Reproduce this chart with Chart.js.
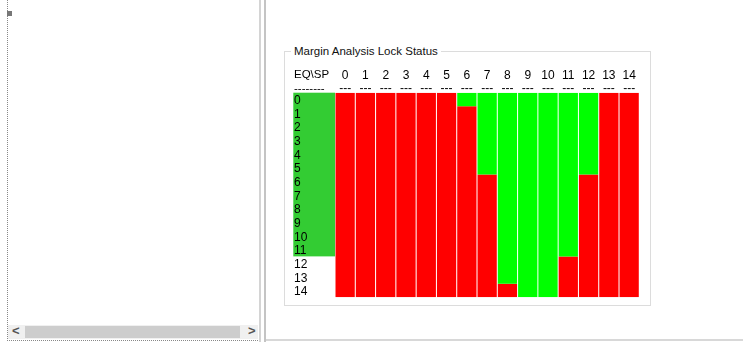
<!DOCTYPE html>
<html>
<head>
<meta charset="utf-8">
<script src="https://cdn.jsdelivr.net/npm/chart.js@4"></script>
<style>
  body { margin: 0; width: 743px; height: 342px; background: #fff; position: relative; overflow: hidden;
         font-family: "Liberation Sans", Arial, sans-serif; }
  .abs { position: absolute; }
  #vdots { left: 7px; top: 0; height: 341px; border-left: 1px dotted #888; }
  #hdots { left: 7px; top: 340px; width: 251px; border-top: 1px dotted #888; }
  #knob { left: 7px; top: 11px; width: 5px; height: 5px; background: #777; }
  #sbar { left: 8px; top: 325px; width: 250px; height: 14px; background: #f0f0f0; }
  #thumb { left: 25px; top: 326px; width: 215px; height: 12px; background: #cdcdcd; }
  .arrow { top: 323px; font-size: 13px; font-weight: bold; color: #555; }
  #split1 { left: 259px; top: 0; width: 2px; height: 342px; background: #d4d4d4; }
  #split2 { left: 264px; top: 0; width: 2px; height: 342px; background: #c4c4c4; }
  #rbot { left: 266px; top: 339px; width: 477px; height: 2px; background: #d8d8d8; }
  #group { left: 284px; top: 51px; width: 365px; height: 253px; border: 1px solid #dcdcdc; }
  #gtitle { left: 291px; top: 44px; padding: 0 3px; background: #fff; font-size: 11.5px; color: #111; line-height: 14px; }
  #cv { left: 284px; top: 60px; }
</style>
</head>
<body>
<div class="abs" id="vdots"></div>
<div class="abs" id="hdots"></div>
<div class="abs" id="knob"></div>
<div class="abs" id="sbar"></div>
<div class="abs" id="thumb"></div>
<div class="abs arrow" style="left:12px">&lt;</div>
<div class="abs arrow" style="left:248px">&gt;</div>
<div class="abs" id="split1"></div>
<div class="abs" id="split2"></div>
<div class="abs" id="rbot"></div>
<div class="abs" id="group"></div>
<div class="abs" id="gtitle">Margin Analysis Lock Status</div>
<canvas class="abs" id="cv" width="366" height="245"></canvas>
<script>
// columns (SP) and rows (EQ)
var spLabels = ["0", "1", "2", "3", "4", "5", "6", "7", "8", "9", "10", "11", "12", "13", "14"];
var eqLabels = ["0", "1", "2", "3", "4", "5", "6", "7", "8", "9", "10", "11", "12", "13", "14"];

// rows locked (green) from the top, then unlocked (red) for the rest
var lockedRows   = [0, 0, 0, 0, 0, 0, 1, 6, 14, 15, 15, 12, 6, 0, 0];
var unlockedRows = [15, 15, 15, 15, 15, 15, 14, 9, 1, 0, 0, 3, 9, 15, 15];

// green band behind the EQ labels
var eqLockedRows = 12;

var headerText = "EQ\\SP";
var headerDash = "--------";
var colDash = "---";

var FONT = '"Liberation Sans", Arial, sans-serif';

var labelBand = {
  id: 'labelBand',
  beforeDraw: function (chart) {
    var c = chart.ctx, y = chart.scales.y, a = chart.chartArea;
    c.save();
    c.fillStyle = '#33cc33';
    c.fillRect(y.left - 0.7, a.top, a.left - y.left + 0.7, y.getPixelForValue(eqLockedRows) - a.top);
    c.restore();
  },
  afterDraw: function (chart) {
    var c = chart.ctx, y = chart.scales.y, a = chart.chartArea;
    c.save();
    c.font = '11.5px ' + FONT;
    c.fillStyle = '#000';
    c.textAlign = 'left';
    c.textBaseline = 'middle';
    c.fillText(headerText, y.left, a.top - 18);
    c.fillText(headerDash, y.left, a.top - 4);
    c.restore();
  }
};

new Chart(document.getElementById('cv'), {
  type: 'bar',
  data: {
    labels: spLabels.map(function (s) { return [s, colDash]; }),
    datasets: [
      { label: 'locked', data: lockedRows, backgroundColor: '#00ff00' },
      { label: 'unlocked', data: unlockedRows, backgroundColor: '#ff0000' }
    ]
  },
  options: {
    responsive: false,
    devicePixelRatio: 1,
    animation: false,
    events: [],
    layout: { padding: { left: 10, top: 0, right: 10.7, bottom: 7.7 } },
    datasets: { bar: { categoryPercentage: 1, barPercentage: 0.95, borderWidth: 0 } },
    plugins: { legend: { display: false }, tooltip: { enabled: false } },
    scales: {
      x: {
        position: 'top',
        stacked: true,
        grid: { display: false, drawTicks: false },
        border: { display: false },
        ticks: { color: '#000', padding: -2.5, maxRotation: 0, autoSkip: false,
                 font: { family: FONT, size: 12, lineHeight: 1.1 } },
        afterFit: function (s) { s.height = 32.7; }
      },
      y: {
        stacked: true,
        reverse: true,
        min: 0,
        max: 15,
        grid: { display: false, drawTicks: false },
        border: { display: false },
        afterBuildTicks: function (s) {
          // label each row a little under its middle, like the original list
          s.ticks = eqLabels.map(function (l, i) { return { value: i + 0.6 }; });
        },
        ticks: {
          autoSkip: false,
          crossAlign: 'far',
          color: '#000',
          padding: 0,
          font: { family: FONT, size: 12 },
          callback: function (v) { return eqLabels[Math.floor(v)]; }
        },
        afterFit: function (s) { s.width = 41; }
      }
    }
  },
  plugins: [labelBand]
});
</script>
</body>
</html>
